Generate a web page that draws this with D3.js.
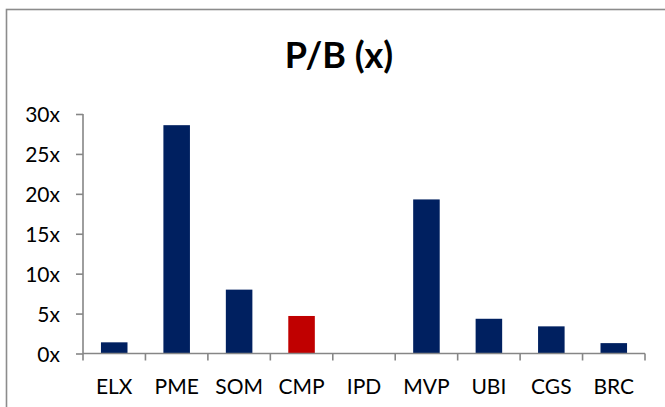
<!DOCTYPE html>
<html>
<head>
<meta charset="utf-8">
<script src="https://cdn.jsdelivr.net/npm/d3@7"></script>
<style>
  html, body { margin: 0; padding: 0; background: #fff; }
  svg { display: block; }
  text { font-family: Lato, "Open Sans", sans-serif; fill: #000; }
</style>
</head>
<body>
<script>
// P/B multiples by company
const categories = ["ELX", "PME", "SOM", "CMP", "IPD", "MVP", "UBI", "CGS", "BRC"];
const pbValues   = [1.4, 28.6, 8.0, 4.7, 0, 19.3, 4.35, 3.4, 1.3];
const highlight  = ["CMP"];
const yTicks     = [0, 5, 10, 15, 20, 25, 30];
const title      = "P/B (x)";

const W = 665, H = 407;
const margin = { left: 83, right: 20, top: 114, bottom: 54 };

const svg = d3.select("body").append("svg")
  .attr("width", W).attr("height", H);

// chart frame (runs off the right and bottom edges)
svg.append("rect")
  .attr("x", 6.5).attr("y", 9.5)
  .attr("width", W + 20).attr("height", H + 20)
  .attr("fill", "none").attr("stroke", "#8c8c8c").attr("stroke-width", 1.6);

svg.append("text")
  .attr("x", 339).attr("y", 68)
  .attr("text-anchor", "middle")
  .attr("font-weight", "bold")
  .attr("font-size", 36)
  .text(title);

const x = d3.scaleBand()
  .domain(categories)
  .range([83, 645])
  .paddingInner(0.575)
  .paddingOuter(0.2875);

const y = d3.scaleLinear().domain([0, 30]).range([353.5, 114]);

// bars
svg.append("g").selectAll("rect")
  .data(categories.map((c, i) => ({ c, v: pbValues[i] })))
  .join("rect")
  .attr("x", d => x(d.c))
  .attr("width", x.bandwidth())
  .attr("y", d => y(d.v))
  .attr("height", d => y(0) - y(d.v))
  .attr("fill", d => highlight.includes(d.c) ? "#C00000" : "#002060");

const axisColor = "#868686";

// y axis
const yAxis = svg.append("g")
  .attr("transform", "translate(83,0)")
  .call(d3.axisLeft(y).tickValues(yTicks).tickSize(7).tickPadding(16)
    .tickFormat(d => d + "x"));
yAxis.select(".domain").attr("stroke", axisColor).attr("stroke-width", 1.6)
  .attr("d", `M0,${y(30)}V${y(0)}`);
yAxis.selectAll(".tick line").attr("stroke", axisColor).attr("stroke-width", 1.6);
yAxis.selectAll(".tick text")
  .attr("font-size", 21).attr("font-family", "Lato, sans-serif").attr("fill", "#000")
  .attr("dy", "0.36em");

// x axis: ticks sit on the category boundaries
const step = x.step();
const bounds = d3.range(categories.length + 1).map(i => 83 + i * (562 / categories.length));
const xAxisG = svg.append("g").attr("transform", `translate(0,${y(0)})`);
xAxisG.append("line")
  .attr("x1", 83).attr("x2", 645)
  .attr("stroke", axisColor).attr("stroke-width", 1.6);
xAxisG.selectAll("line.tk").data(bounds).join("line")
  .attr("class", "tk")
  .attr("x1", d => d).attr("x2", d => d)
  .attr("y1", 0).attr("y2", 7)
  .attr("stroke", axisColor).attr("stroke-width", 1.6);
xAxisG.selectAll("text").data(categories).join("text")
  .attr("x", d => x(d) + x.bandwidth() / 2)
  .attr("y", 40)
  .attr("text-anchor", "middle")
  .attr("font-size", 21)
  .text(d => d);
</script>
</body>
</html>
